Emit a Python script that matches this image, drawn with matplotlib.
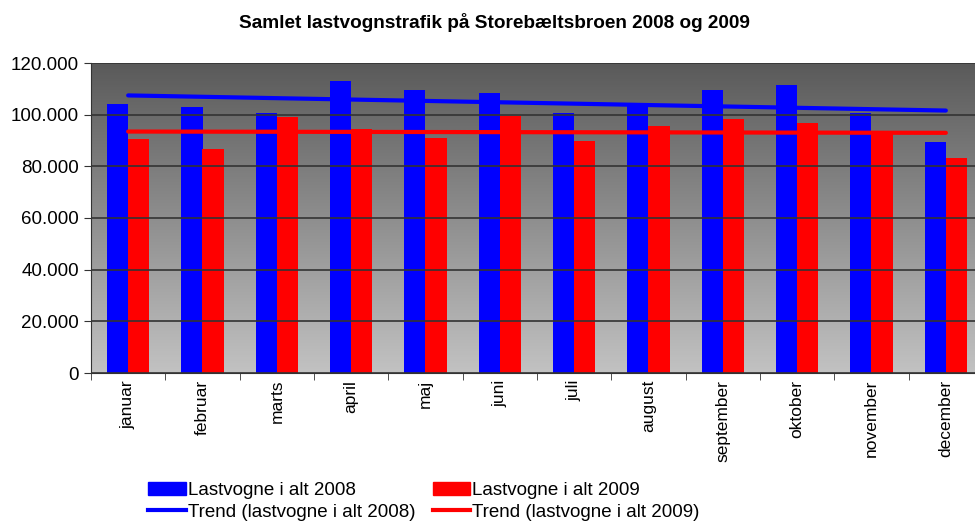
import numpy as np
import matplotlib
matplotlib.use("Agg")
import matplotlib.pyplot as plt
from matplotlib.ticker import FuncFormatter, FixedLocator
from matplotlib.patches import Patch
from matplotlib.lines import Line2D

plt.rcParams["font.family"] = ["Liberation Sans", "DejaVu Sans"]

# data
months = ["januar", "februar", "marts", "april", "maj", "juni", "juli",
          "august", "september", "oktober", "november", "december"]
trucks_2008 = [104300, 103000, 100700, 113000, 109600, 108400,
               100700, 103400, 109600, 111500, 100700, 89400]
trucks_2009 = [90600, 86700, 99100, 94500, 91000, 99500,
               89800, 95600, 98300, 96800, 93500, 83200]

x = np.arange(len(months))

# lineære trendlinjer (som Excel)
trend_2008 = np.polyval(np.polyfit(x, trucks_2008, 1), x)
trend_2009 = np.polyval(np.polyfit(x, trucks_2009, 1), x)

fig = plt.figure(figsize=(9.75, 5.21), dpi=100)
ax = fig.add_axes([91 / 975, 1 - 373 / 521, (983 - 91) / 975, 310 / 521])

# gradient baggrund
grad = np.linspace(0, 1, 256).reshape(-1, 1)
ax.imshow(grad, extent=[-0.5, 11.5, 0, 120000], aspect="auto",
          cmap=matplotlib.colors.LinearSegmentedColormap.from_list(
              "bg", ["#c2c2c2", "#5a5a5a"]),
          origin="lower", zorder=0)

w = 0.285
ax.bar(x - w / 2, trucks_2008, width=w, color="#0000ff", zorder=2)
ax.bar(x + w / 2, trucks_2009, width=w, color="#ff0000", zorder=2)
ax.plot(x, trend_2008, color="#0000ff", linewidth=3, solid_capstyle="round", zorder=3)
ax.plot(x, trend_2009, color="#ff0000", linewidth=3, solid_capstyle="round", zorder=3)

ax.set_xlim(-0.5, 11.5)
ax.set_ylim(0, 120000)
ax.set_yticks(np.arange(0, 120001, 20000))
ax.yaxis.set_major_formatter(FuncFormatter(lambda v, p: f"{int(v):,}".replace(",", ".")))
ax.yaxis.grid(True, color="#333333", linewidth=1.2, zorder=1)
ax.set_axisbelow(False)

ax.set_xticks(x)
ax.set_xticklabels(months, rotation=90, fontsize=12.5)
ax.tick_params(axis="x", which="major", length=0, pad=5)
ax.xaxis.set_minor_locator(FixedLocator(np.arange(-0.5, 12, 1)))
ax.tick_params(axis="x", which="minor", length=5, color="#333333")
ax.tick_params(axis="y", labelsize=13.5, length=5, color="#333333")

for s in ["top", "right"]:
    ax.spines[s].set_visible(False)
ax.spines["left"].set_color("#333333")
ax.spines["bottom"].set_color("#333333")

fig.text(0.5 + 7 / 975, 1 - 22 / 521, "Samlet lastvognstrafik på Storebæltsbroen 2008 og 2009",
         ha="center", va="center", fontsize=13.7, fontweight="bold")

handles = [Patch(color="#0000ff"), Line2D([], [], color="#0000ff", linewidth=3),
           Patch(color="#ff0000"), Line2D([], [], color="#ff0000", linewidth=3)]
labels = ["Lastvogne i alt 2008", "Trend (lastvogne i alt 2008)",
          "Lastvogne i alt 2009", "Trend (lastvogne i alt 2009)"]
fig.legend(handles, labels, ncol=2, loc="lower left",
           bbox_to_anchor=(135 / 975, -0.025), frameon=False, fontsize=13.5,
           handlelength=2.0, handletextpad=0.1, columnspacing=0.95,
           labelspacing=0.25, borderpad=0.2)

fig.savefig("out.png", dpi=100)
